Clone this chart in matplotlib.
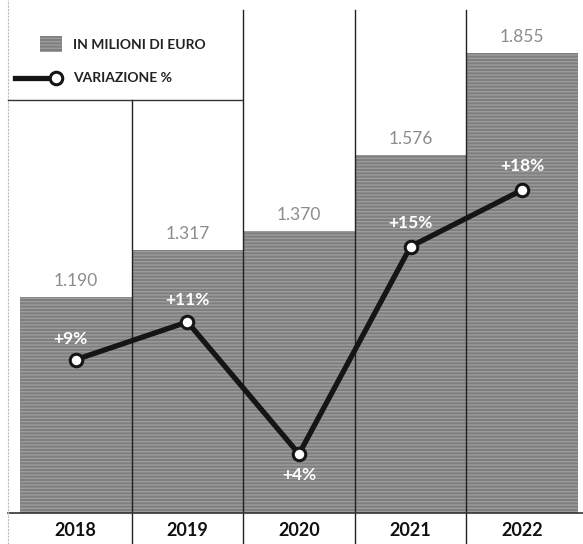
import matplotlib
matplotlib.use("Agg")
import matplotlib.pyplot as plt
from matplotlib.patches import Rectangle
from matplotlib.lines import Line2D

plt.rcParams['font.family'] = ['Lato', 'DejaVu Sans']
plt.rcParams['hatch.linewidth'] = 1.0

years = ["2018", "2019", "2020", "2021", "2022"]
values = [1190, 1317, 1370, 1576, 1855]
value_labels = ["1.190", "1.317", "1.370", "1.576", "1.855"]
pct = [9, 11, 4, 15, 18]
pct_labels = ["+9%", "+11%", "+4%", "+15%", "+18%"]

W, H = 583, 544
fig = plt.figure(figsize=(W / 100, H / 100), dpi=100)
fig.patch.set_facecolor('white')

ax_l, ax_r, ax_b, ax_t = 20, 578, 513, 0
ax = fig.add_axes([ax_l / W, (H - ax_b) / H, (ax_r - ax_l) / W, (ax_b - ax_t) / H])
ax.set_xlim(-0.5, 4.5)
ax.set_ylim(601, 2000)
for s in ax.spines.values():
    s.set_visible(False)
ax.set_xticks([])
ax.set_yticks([])
ax.patch.set_alpha(0)

x = list(range(len(years)))
bar_color = '#7f7f7f'
hatch_color = '#9c9c9c'
ax.bar(x, [v - 601 for v in values], bottom=601, width=1.0, color=bar_color,
       edgecolor=hatch_color, linewidth=0, hatch='-----', zorder=1)

for xi, v, lab in zip(x, values, value_labels):
    ax.annotate(lab, (xi, v), xytext=(0, 6), textcoords='offset points',
                ha='center', va='bottom', fontsize=12.5, color='#8c8c8c')

# year labels
for xi, y in zip(x, years):
    ax.text(xi, -17 / 513, y, transform=ax.get_xaxis_transform(), ha='center', va='center',
            fontsize=13, fontweight='bold', color='#111111')

# separators
trans = ax.get_xaxis_transform()
for i, b in enumerate([0.5, 1.5, 2.5, 3.5]):
    ytop = (513 - 100) / 513 if i == 0 else (513 - 10) / 513
    ax.plot([b, b], [-31 / 513, ytop], transform=trans, color='#222222', lw=1.0,
            clip_on=False, zorder=3)
# baseline
fig.add_artist(Line2D([8 / W, 1.0], [(H - 513) / H] * 2, color='#333333', lw=1.2))
# left dashed border
fig.add_artist(Line2D([8 / W, 8 / W], [0, 1], color='#bbbbbb', lw=0.8, ls=(0, (2, 1))))
# legend box bottom line
fig.add_artist(Line2D([8 / W, 242 / W], [(H - 100) / H] * 2, color='#333333', lw=1.0))

# line on twin axis
ax2 = ax.twinx()
ax2.set_ylim(0.87, 28.07)
ax2.set_yticks([])
for s in ax2.spines.values():
    s.set_visible(False)
ax2.plot(x, pct, color='#151515', lw=3.8, marker='o', markersize=9,
         markerfacecolor='white', markeredgecolor='#151515', markeredgewidth=2.2, zorder=5)
offsets = [(-4, 15), (0, 16), (0, -15), (0, 17), (0, 17)]
for xi, p, lab, off in zip(x, pct, pct_labels, offsets):
    ax2.annotate(lab, (xi, p), xytext=off, textcoords='offset points', ha='center',
                 va='center', fontsize=12.5, fontweight='bold', color='white', zorder=6)

# legend (manual)
fig.add_artist(Rectangle((40 / W, (H - 52) / H), 22 / W, 16 / H, transform=fig.transFigure,
                         facecolor=bar_color, edgecolor=hatch_color, linewidth=0, hatch='-----'))
fig.text(73 / W, (H - 45) / H, "IN MILIONI DI EURO", fontsize=10, fontweight='bold',
         color='#222222', va='center', ha='left')
fig.add_artist(Line2D([15 / W, 52 / W], [(H - 78) / H] * 2, color='#151515', lw=3.8))
fig.add_artist(Line2D([56 / W], [(H - 78) / H], marker='o', markersize=9,
                      markerfacecolor='white', markeredgecolor='#151515', markeredgewidth=2.2))
fig.text(73 / W, (H - 78) / H, "VARIAZIONE %", fontsize=10, fontweight='bold',
         color='#222222', va='center', ha='left')

fig.savefig("out.png", dpi=100, facecolor='white')
